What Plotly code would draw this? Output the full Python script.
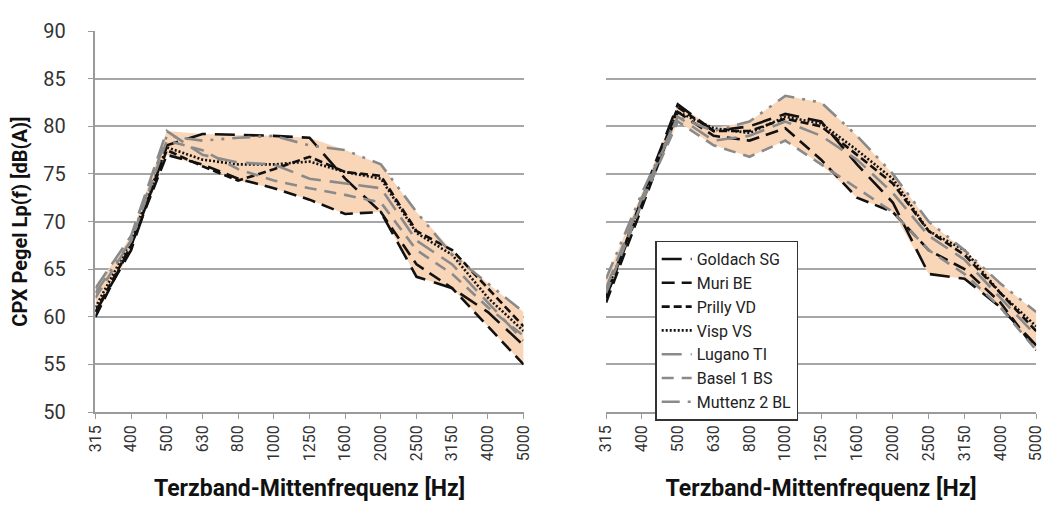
import plotly.graph_objects as go

categories = ["315", "400", "500", "630", "800", "1000", "1250", "1600",
              "2000", "2500", "3150", "4000", "5000"]
series_names = ["Goldach SG", "Muri BE", "Prilly VD", "Visp VS",
                "Lugano TI", "Basel 1 BS", "Muttenz 2 BL"]

left_goldach = [60.5, 67.0, 78.0, 79.2, 79.1, 79.0, 78.8, 74.5, 71.0, 64.2, 63.0, 60.5, 57.0]
left_muri = [60.0, 67.5, 77.0, 76.0, 74.5, 73.5, 72.3, 70.8, 71.0, 65.5, 63.0, 59.0, 55.0]
left_prilly = [60.5, 67.5, 77.5, 75.8, 74.3, 75.5, 76.8, 75.2, 74.8, 69.0, 67.0, 63.0, 59.0]
left_visp = [61.0, 68.0, 77.8, 76.5, 76.0, 76.0, 76.3, 75.2, 74.5, 68.8, 66.5, 62.0, 58.5]
left_lugano = [63.0, 68.5, 79.5, 77.0, 76.2, 76.0, 74.5, 74.0, 73.5, 68.0, 65.5, 61.5, 57.5]
left_basel = [62.0, 68.0, 78.5, 77.5, 75.5, 74.3, 73.5, 72.8, 72.0, 67.0, 64.5, 61.0, 58.0]
left_muttenz = [62.5, 68.0, 79.0, 78.5, 78.8, 79.0, 78.0, 77.5, 76.0, 71.0, 66.5, 63.5, 60.5]

right_goldach = [62.0, 72.5, 82.3, 79.5, 80.0, 81.3, 80.5, 76.0, 72.0, 64.5, 64.0, 61.0, 57.0]
right_muri = [61.5, 71.5, 81.5, 79.0, 78.5, 79.8, 76.5, 72.5, 71.0, 67.0, 65.0, 61.5, 56.5]
right_prilly = [62.0, 72.0, 82.0, 79.5, 79.5, 80.8, 80.0, 77.0, 74.0, 69.0, 66.5, 62.5, 58.5]
right_visp = [62.5, 72.0, 81.5, 79.8, 79.3, 81.0, 80.3, 77.5, 74.5, 69.0, 67.0, 62.5, 59.0]
right_lugano = [63.0, 72.5, 81.0, 78.5, 79.0, 80.5, 79.0, 76.5, 73.0, 68.5, 66.0, 62.0, 58.0]
right_basel = [62.5, 72.0, 80.5, 78.0, 76.8, 78.5, 76.0, 73.5, 71.0, 67.0, 64.5, 61.0, 56.5]
right_muttenz = [64.0, 73.0, 81.0, 79.5, 80.5, 83.2, 82.5, 79.0, 75.0, 70.0, 67.0, 63.5, 60.5]

y_ticks = [50, 55, 60, 65, 70, 75, 80, 85, 90]

left_series = [left_goldach, left_muri, left_prilly, left_visp,
               left_lugano, left_basel, left_muttenz]
right_series = [right_goldach, right_muri, right_prilly, right_visp,
                right_lugano, right_basel, right_muttenz]

BLACK = "#111111"
GRAY = "#8a8a8a"
styles = [
    (BLACK, "20px,9px"),
    (BLACK, "13px,7px"),
    (BLACK, "8px,4px"),
    (BLACK, "2px,2px"),
    (GRAY, "20px,9px"),
    (GRAY, "12px,8px"),
    (GRAY, "18px,8px,3px,8px,3px,8px"),
]
FILL = "rgb(250,214,185)"

fig = go.Figure()

for panel, (data, xa, ya) in enumerate([(left_series, "x", "y"), (right_series, "x2", "y2")]):
    upper = [max(v) for v in zip(*data)]
    lower = [min(v) for v in zip(*data)]
    fig.add_trace(go.Scatter(x=categories, y=upper, mode="lines", line=dict(width=0, color=FILL),
                             showlegend=False, hoverinfo="skip", xaxis=xa, yaxis=ya))
    fig.add_trace(go.Scatter(x=categories, y=lower, mode="lines", line=dict(width=0, color=FILL),
                             fill="tonexty", fillcolor=FILL, showlegend=False,
                             hoverinfo="skip", xaxis=xa, yaxis=ya))
    for name, vals, (col, dash) in zip(series_names, data, styles):
        fig.add_trace(go.Scatter(x=categories, y=vals, mode="lines", name=name,
                                 line=dict(color=col, width=2.6, dash=dash),
                                 showlegend=(panel == 1), xaxis=xa, yaxis=ya))

tick_font = dict(family="Roboto", size=16, color="#333333")
title_font = dict(family="Roboto", size=23, color="#111111")

xcommon = dict(type="category", categoryorder="array", categoryarray=categories,
               range=[0, 12], tickangle=-90, tickfont=tick_font,
               showline=True, linecolor="#9a9a9a", linewidth=1.5,
               ticks="outside", ticklen=5, tickcolor="#9a9a9a",
               showgrid=False, zeroline=False,
               title=dict(text="<b>Terzband-Mittenfrequenz [Hz]</b>", font=title_font, standoff=20))
ycommon = dict(range=[50, 90], tickvals=y_ticks, showgrid=True, gridcolor="#a6a6a6",
               gridwidth=1.5, zeroline=False)

fig.update_layout(
    width=1057, height=506,
    margin=dict(l=0, r=0, t=0, b=0),
    paper_bgcolor="white", plot_bgcolor="white",
    xaxis=dict(domain=[87/1057, 523/1057], anchor="y", **xcommon),
    xaxis2=dict(domain=[607/1057, 1045/1057], anchor="y2", **xcommon),
    yaxis=dict(domain=[1 - 420/506, 1 - 20/506], anchor="x",
               showline=True, linecolor="#9a9a9a", linewidth=1.5,
               ticks="outside", ticklen=6, tickcolor="#9a9a9a",
               tickfont=dict(family="Roboto", size=20, color="#333333"),
               ticklabelstandoff=18,
               title=dict(text="<b>CPX Pegel Lp(f) [dB(A)]</b>", font=dict(family="Roboto", size=20, color="#111111"), standoff=10),
               **ycommon),
    yaxis2=dict(domain=[1 - 420/506, 1 - 20/506], anchor="x2",
                showline=False, showticklabels=False, ticks="", **ycommon),
    legend=dict(x=657/1057, y=1 - 240/506, xanchor="left", yanchor="top",
                bgcolor="white", bordercolor="#333333", borderwidth=1.5,
                font=dict(family="Roboto", size=16, color="#222222"),
                traceorder="normal", tracegroupgap=0, itemwidth=30),
    showlegend=True,
)

fig.write_html("out.html")
